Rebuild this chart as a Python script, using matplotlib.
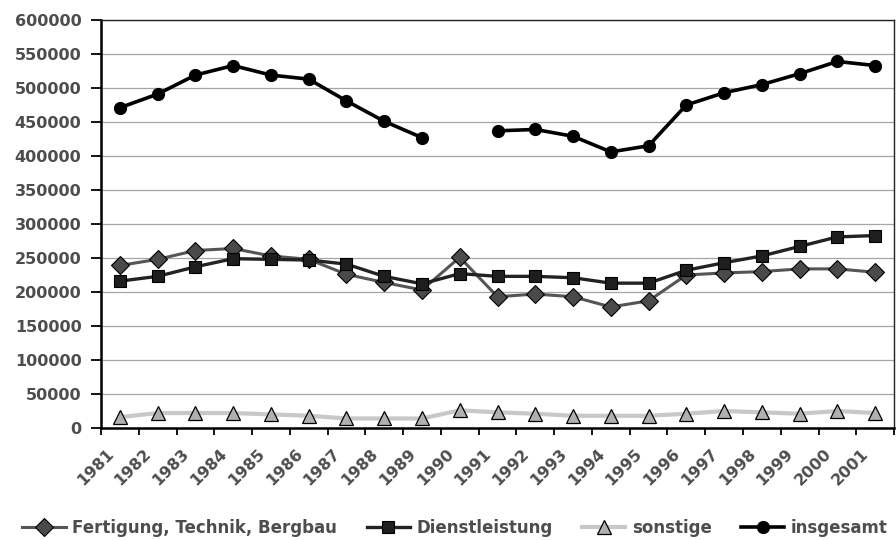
import numpy as np
import matplotlib
matplotlib.use('Agg')
import matplotlib.pyplot as plt
import matplotlib.transforms as mtransforms
from matplotlib.ticker import MultipleLocator

years = ['1981', '1982', '1983', '1984', '1985', '1986', '1987', '1988', '1989', '1990', '1991',
         '1992', '1993', '1994', '1995', '1996', '1997', '1998', '1999', '2000', '2001']

fertigung = [239000, 248000, 261000, 264000, 253000, 248000, 226000, 214000, 203000, 251000, 193000,
             197000, 193000, 178000, 187000, 225000, 228000, 230000, 234000, 234000, 229000]
dienstleistung = [216000, 223000, 237000, 249000, 248000, 247000, 241000, 223000, 212000, 227000, 223000,
                  223000, 221000, 213000, 213000, 232000, 243000, 253000, 267000, 281000, 283000]
sonstige = [16000, 22000, 22000, 22000, 20000, 18000, 14000, 14000, 14000, 26000, 23000,
            21000, 18000, 18000, 18000, 21000, 25000, 23000, 21000, 25000, 22000]
insgesamt = [471000, 491000, 519000, 533000, 519000, 513000, 481000, 451000, 427000, np.nan, 437000,
             439000, 429000, 406000, 415000, 475000, 493000, 505000, 521000, 539000, 533000]

labels = ['Fertigung, Technik, Bergbau', 'Dienstleistung', 'sonstige', 'insgesamt']

txt_color = '#4d4d4d'
plt.rcParams['font.family'] = ['DejaVu Sans']
plt.rcParams['font.weight'] = 'bold'

fig = plt.figure(figsize=(8.96, 5.4), dpi=100)
ax = fig.add_axes([0.1127, 0.2074, 0.8851, 0.7556])

x = np.arange(len(years))

h1, = ax.plot(x, fertigung, color='#555555', lw=2.2, marker='D', ms=9,
              mfc='#4a4a4a', mec='black', mew=0.8, label=labels[0], zorder=3)
h2, = ax.plot(x, dienstleistung, color='#222222', lw=2.4, marker='s', ms=8.5,
              mfc='#1e1e1e', mec='black', mew=0.8, label=labels[1], zorder=4)
h3, = ax.plot(x, sonstige, color='#c8c8c8', lw=3, marker='^', ms=10,
              mfc='#b0b0b0', mec='black', mew=0.9, label=labels[2], zorder=3)
h4, = ax.plot(x, insgesamt, color='black', lw=2.6, marker='o', ms=8.5,
              mfc='black', mec='black', label=labels[3], zorder=5)

ax.set_xlim(-0.5, len(years) - 0.5)
ax.set_ylim(0, 600000)
ax.yaxis.set_major_locator(MultipleLocator(50000))
ax.yaxis.grid(True, color='#a6a6a6', lw=0.9)
ax.set_axisbelow(True)

ax.set_xticks(x)
ax.set_xticks(np.arange(-0.5, len(years)), minor=True)
ax.set_xticklabels(years, rotation=45, ha='right', rotation_mode='anchor')
ax.tick_params(axis='x', which='major', length=0, pad=13)
ax.tick_params(axis='x', which='minor', length=5, width=1.3, color='black')
ax.tick_params(axis='y', length=7, width=1.3, color='black', pad=7)
ax.tick_params(labelsize=11.5, labelcolor=txt_color)
ax.set_yticklabels([f'{int(v)}' for v in ax.get_yticks()])

# nudge the slanted year labels to the left of their category
shift = mtransforms.ScaledTranslation(-0.14, 0, fig.dpi_scale_trans)
for lbl in ax.get_xticklabels():
    lbl.set_transform(lbl.get_transform() + shift)

for side in ['left', 'bottom']:
    ax.spines[side].set_linewidth(1.8)
    ax.spines[side].set_color('black')
for side in ['top', 'right']:
    ax.spines[side].set_linewidth(1.0)
    ax.spines[side].set_color('#222222')

fig.legend(handles=[h1, h2, h3, h4], labels=labels, loc='center', bbox_to_anchor=(0.508, 0.022),
           ncol=4, frameon=False, handlelength=2.6, handletextpad=0.4, columnspacing=1.75,
           prop={'weight': 'bold', 'size': 12}, labelcolor=txt_color)

fig.savefig('out.png', dpi=100)
